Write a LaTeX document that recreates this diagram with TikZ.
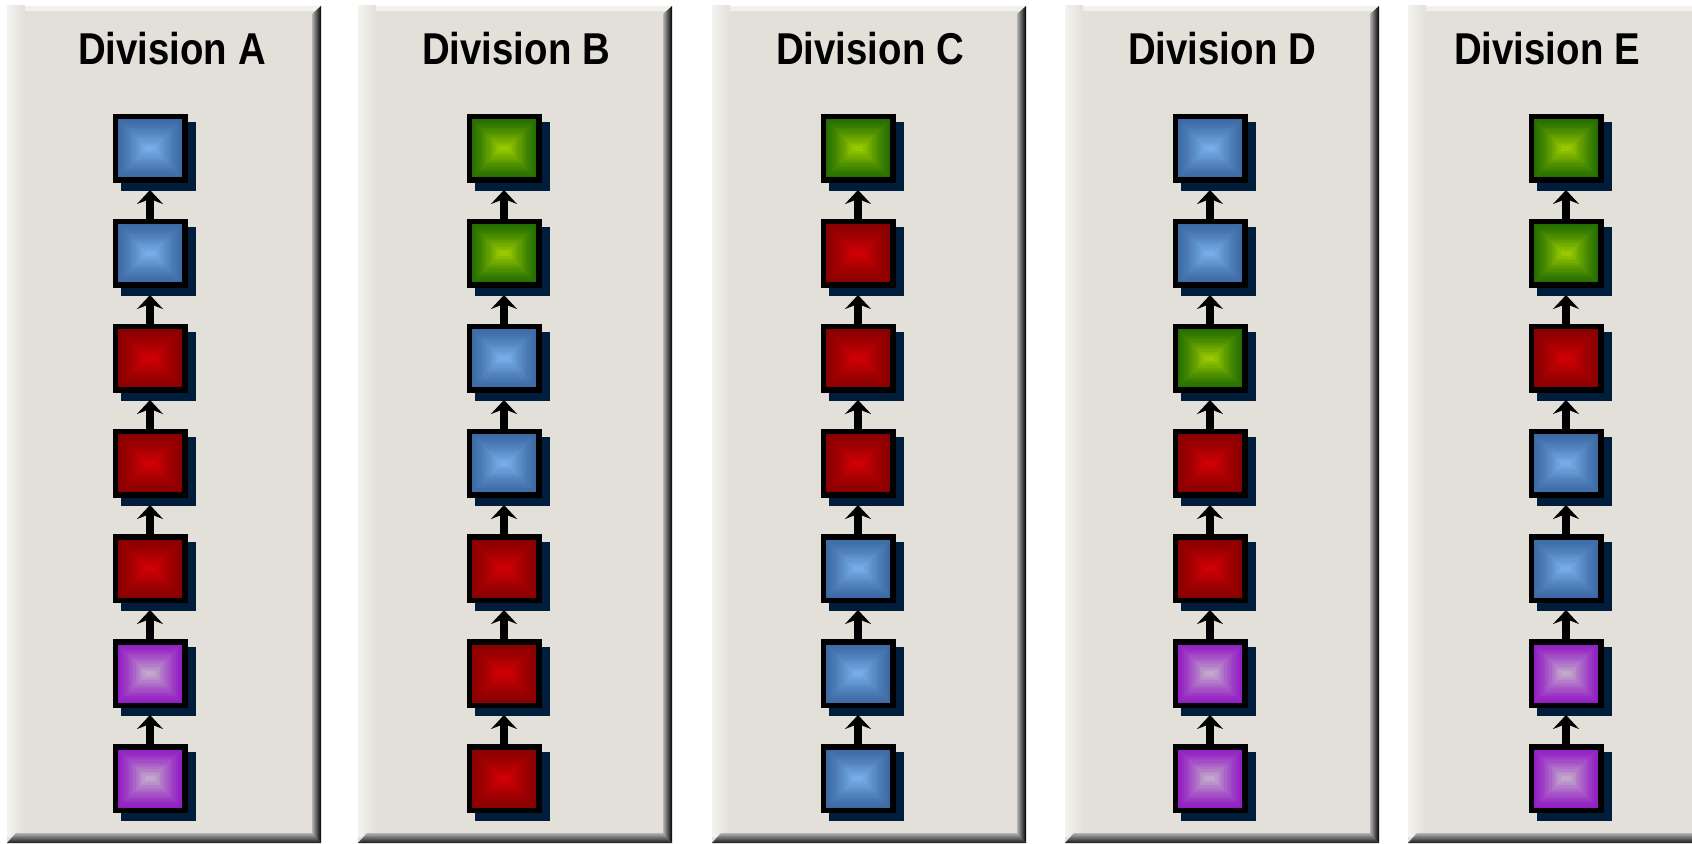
\documentclass[tikz,border=0pt]{standalone}
\usepackage{fontspec}
\usepackage{tikz}
\usetikzlibrary{arrows.meta,positioning,shadows}
\newfontfamily\titlefont[FakeStretch=0.86]{Liberation Sans}

\definecolor{panelbg}{RGB}{226,224,216}
\definecolor{shnavy}{RGB}{0,30,60}
\definecolor{bluout}{RGB}{58,104,162}
\definecolor{bluin}{RGB}{125,180,238}
\definecolor{redout}{RGB}{135,0,0}
\definecolor{redin}{RGB}{215,0,5}
\definecolor{grnout}{RGB}{32,108,0}
\definecolor{grnin}{RGB}{165,210,0}
\definecolor{purout}{RGB}{145,25,195}
\definecolor{purin}{RGB}{200,182,205}

\begin{document}
\begin{tikzpicture}[x=0.5pt, y=-0.5pt, node distance=18pt,
  every node/.style={font=\titlefont\bfseries\fontsize{22.3pt}{26pt}\selectfont}]
  \tikzset{tile/.style={rectangle, draw=black, line width=2.75pt, minimum width=34.75pt, minimum height=31.75pt, inner sep=0pt,
      drop shadow={shadow xshift=4pt, shadow yshift=-4pt, fill=shnavy, draw=shnavy, opacity=1},
      path picture={\foreach \k in {0,...,14}{
          \pgfmathtruncatemacro\mix{100*(\k/14)^1.3}
          \pgfmathsetmacro\dd{\k*15.9/14}
          \fill[#1in!\mix!#1out] ([shift={(-17.4pt+\dd pt,-15.9pt+\dd pt)}]path picture bounding box.center)
            rectangle ([shift={(17.4pt-\dd pt,15.9pt-\dd pt)}]path picture bounding box.center);}}},
    arr/.style={-{Stealth[length=7pt, width=13pt, inset=2.5pt]}, line width=4.2pt, shorten >=3.5pt}}
  \useasboundingbox (0,0) rectangle (1692,844);
  \fill[white] (0,0) rectangle (1692,844);
  % one panel per division, tiles stacked bottom to top
  \foreach \pan/\px/\bx/\tx/\cols in {
      A/7/150/172/{blu,blu,red,red,red,pur,pur},
      B/358/504/516/{grn,grn,blu,blu,red,red,red},
      C/712/858/870/{grn,red,red,red,blu,blu,blu},
      D/1065/1210/1222/{blu,blu,grn,red,red,pur,pur},
      E/1408/1566/1547/{grn,grn,red,blu,blu,pur,pur}}{
    \fill[panelbg] (\px,6) rectangle ++(314,837);
    \fill[white!55!panelbg] (\px,6) rectangle ++(314,5);
    \shade[left color=white!60!panelbg, right color=panelbg] (\px,6) rectangle ++(18,830);
    \shade[left color=gray!60, right color=black] (\px+305,14) -- (\px+314,6) -- (\px+314,843) -- (\px+305,835) -- cycle;
    \shade[top color=gray!60, bottom color=black!90] (\px,843) -- (\px+9,833) -- (\px+305,833) -- (\px+314,843) -- cycle;
    \node[anchor=base] (title\pan) at (\tx,65) {Division \pan};
    \foreach \c [count=\r] in \cols {
      \ifnum\r=1
        \node[tile=\c] (\pan\r) at (\bx,148.5) {};
      \else
        \pgfmathtruncatemacro\prev{\r-1}
        \node[tile=\c, below=of \pan\prev] (\pan\r) {};
        \draw[arr] (\pan\r) -- (\pan\prev);
      \fi
    }
  }
\end{tikzpicture}
\end{document}
